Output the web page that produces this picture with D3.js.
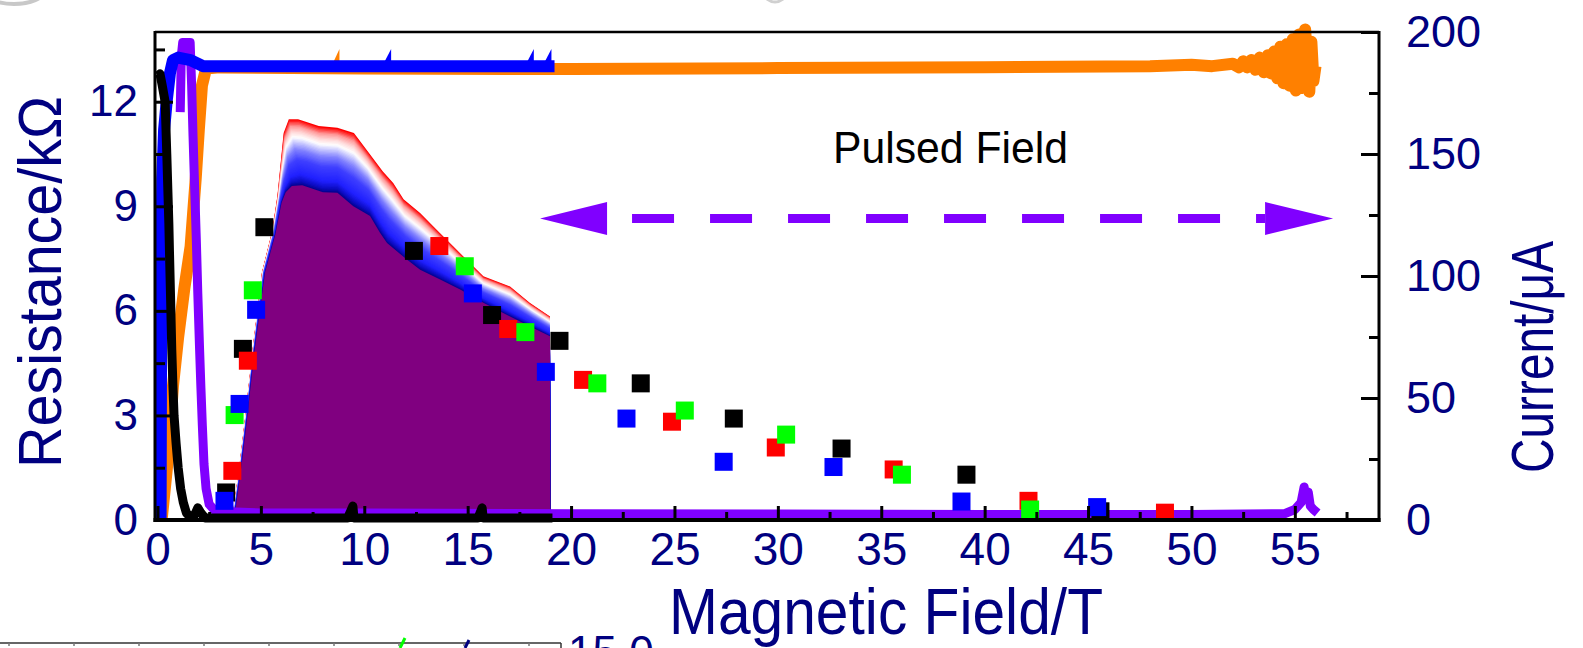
<!DOCTYPE html>
<html><head><meta charset="utf-8">
<script src="https://cdn.jsdelivr.net/npm/d3@7"></script>
<style>
html,body{margin:0;padding:0;background:#fff;}
svg{display:block;}
text{font-family:"Liberation Sans",Arial,Helvetica,sans-serif;}
</style></head>
<body>
<svg id="chart" width="1583" height="648"></svg>
<script>
// ---------------- DATA ----------------
const xTicks = [0,5,10,15,20,25,30,35,40,45,50,55];
const xMinor = [2.5,7.5,12.5,17.5,22.5,27.5,32.5,37.5,42.5,47.5,52.5,57.5];
const leftTicks = [0,3,6,9,12];
const leftMinor = [1.5,4.5,7.5,10.5,13.5];
const rightTicks = [0,50,100,150,200];
const rightMinor = [25,75,125,175];

// Resistance curves (kOhm, left axis)
const blackX = [0.02,0.12,0.22,0.37,0.45,0.5,0.55,0.58,0.64,0.69,0.75,0.8,0.9,1.0,1.12,1.25,1.4,1.6,1.8,1.95,2.1,2.3,5,9.2,9.45,9.5,12,15.5,15.7,15.75,19.1];
const blackR = [12.75,12.8,12.5,12.0,10.5,9.5,8.5,7.7,6.2,4.9,3.8,3.0,2.2,1.5,0.9,0.5,0.2,0.08,0.15,0.35,0.2,0.06,0.06,0.06,0.4,0.06,0.06,0.06,0.35,0.06,0.06];

const purpleX = [1.1,1.15,1.22,1.58,1.65,1.72,1.8,1.88,1.95,2.03,2.1,2.17,2.25,2.35,2.5,2.8,5,10,20,30,40,50,54.5,55.0,55.3,55.45,55.55,55.65,55.75,55.9,56.1];
const purpleR = [11.7,13.3,13.7,13.7,12.5,11.0,9.5,8.0,6.5,5.0,3.8,2.7,1.6,0.9,0.45,0.25,0.2,0.2,0.18,0.17,0.16,0.16,0.18,0.3,0.5,0.95,0.6,0.8,0.4,0.3,0.2];

// Current curves (uA, right axis)
const blueX = [0.15,0.18,0.23,0.32,0.45,0.6,0.75,1.0,1.6,2.2,19.2];
const blueI = [0,90,140,160,172,183,188.5,189.5,188.5,186,186];
const blueSpikeX = [11.3,18.2,19.05];
const blueSpikeI = [193,193,193];

const orangeX = [0.2,0.5,0.75,1.0,1.3,1.6,1.85,2.0,2.15,2.35,3,10,20,30,40,48,50,51,52.0,52.3,52.5,52.7,52.9,53.1,53.3,53.5,53.7,53.85,54.0,54.15,54.3,54.45,54.6,54.75,54.9,55.05,55.2,55.35,55.5,55.6,55.7,55.8,55.9,56.0];
const orangeI = [0,25,55,75,95,112,140,160,178,185,185.5,185,184.8,185.2,185.6,186,186.6,186,187,185.5,188,185.5,188.5,184.5,189.5,183.5,190.5,183,192,181,194,179,195,178,197,176,199,177,201,186,175.5,196,180,186];
const orangeSpikeX = [8.8];
const orangeSpikeI = [193];

// Shaded region (kOhm): inner (purple) edge and outer (red) edge
const bandInnerX = [3.7,4.05,4.35,4.7,5.2,5.7,6.0,6.2,6.5,7.0,7.5,8.0,8.7,9.47,10.28,10.76,11.1,12.06,12.7,13.67,14.64,15.76,17.05,18.34,18.98,19.0];
const bandInnerR = [0,1.5,3.0,4.9,7.1,8.2,9.1,9.4,9.58,9.6,9.5,9.4,9.39,9.0,8.72,8.24,7.95,7.47,7.18,6.9,6.61,6.23,5.84,5.46,5.27,0];
const bandOuterX = [3.6,3.95,4.25,4.6,5.05,5.55,5.8,5.95,6.1,6.35,6.8,7.8,8.7,9.5,10.1,10.9,11.4,11.9,12.7,13.5,14.3,15.76,17.05,18.0,18.98,19.0];
const bandOuterR = [0,1.5,3.0,4.9,7.1,8.3,9.3,10.2,11.1,11.5,11.5,11.3,11.25,11.1,10.63,10.0,9.67,9.2,8.81,8.33,7.85,6.99,6.7,6.23,5.84,0];

// Square markers (x in T, R in kOhm)
const sqBlackX = [3.32,4.13,5.17,12.4,16.18,19.44,23.37,27.87,33.08,39.12,45.6];
const sqBlackR = [0.79,4.91,8.4,7.72,5.88,5.14,3.92,2.91,2.05,1.3,0.25];
const sqRedX = [3.62,4.37,13.63,16.96,20.58,24.88,29.9,35.6,42.12,48.72];
const sqRedR = [1.41,4.57,7.86,5.48,4.02,2.82,2.08,1.45,0.55,0.21];
const sqGreenX = [3.73,4.61,14.86,17.79,21.27,25.5,30.4,36.0,42.2];
const sqGreenR = [3.01,6.59,7.28,5.39,3.92,3.14,2.45,1.3,0.3];
const sqBlueX = [3.24,3.97,4.77,15.25,18.78,22.68,27.38,32.69,38.88,45.44];
const sqBlueR = [0.55,3.33,6.03,6.5,4.25,2.91,1.67,1.52,0.53,0.37];

// Annotation arrow (data coords)
const arrowX = [18.5, 56.85];
const arrowR = 8.65;

// ---------------- CHART ----------------
const svg = d3.select("#chart");
const navy = "#000080";
const x = d3.scaleLinear().domain([-0.12, 59.07]).range([155, 1379]);
const yL = d3.scaleLinear().domain([0, 14]).range([520, 32]);
const yR = d3.scaleLinear().domain([0, 200]).range([520, 32]);

// remnants of neighbouring figures
svg.append("ellipse").attr("cx",14).attr("cy",-9).attr("rx",30).attr("ry",13).attr("fill","none").attr("stroke","#c8c8c8").attr("stroke-width",4);
svg.append("ellipse").attr("cx",775).attr("cy",-6).attr("rx",10).attr("ry",8).attr("fill","none").attr("stroke","#d0d0d0").attr("stroke-width",3);

// shaded band
const zip = (a,b)=>a.map((v,i)=>[v,b[i]]);
const colorF = d3.scaleLinear()
  .domain([0,0.07,0.18,0.4,0.55,0.66,0.74,0.82,0.9,0.96,1])
  .range(["#000080","#0c0cc0","#2020ff","#4040ff","#8080ff","#c8c8ff","#ffffff","#ffd6d6","#ff9a9a","#ff4040","#ff0000"]);
const ptsLine = d3.line().x(d=>x(d[0])).y(d=>yL(d[1]));
const nLayers = 48;
for (let k = nLayers; k >= 1; k--) {
  const f = k / nLayers;
  const pts = bandInnerX.map((xi,i)=>[xi + f*(bandOuterX[i]-xi), bandInnerR[i] + f*(bandOuterR[i]-bandInnerR[i])]);
  svg.append("path").attr("d", ptsLine(pts) + "Z").attr("fill", colorF(f)).attr("stroke","none");
}
svg.append("path").attr("d", ptsLine(zip(bandInnerX, bandInnerR)) + "Z").attr("fill", "#800080");

// curves
const lineL = d3.line().x(d=>x(d[0])).y(d=>yL(d[1]));
const lineR = d3.line().x(d=>x(d[0])).y(d=>yR(d[1]));
function spikes(xs, vs, base, color){
  xs.forEach((sx,i)=>{
    const px = x(sx), top = yR(vs[i]), b = yR(base);
    svg.append("path").attr("d",`M${px-9},${b}L${px},${top}L${px},${b}Z`).attr("fill",color);
  });
}
svg.append("path").attr("d", lineR(zip(orangeX, orangeI))).attr("fill","none").attr("stroke","#ff8000").attr("stroke-width",12).attr("stroke-linejoin","round");
spikes(orangeSpikeX, orangeSpikeI, 185, "#ff8000");
svg.append("path").attr("d", lineL(zip(purpleX, purpleR))).attr("fill","none").attr("stroke","#8000ff").attr("stroke-width",9).attr("stroke-linejoin","round");
svg.append("path").attr("d", lineR(zip(blueX, blueI))).attr("fill","none").attr("stroke","#0000ff").attr("stroke-width",12).attr("stroke-linejoin","round");
spikes(blueSpikeX, blueSpikeI, 186, "#0000ff");
svg.append("path").attr("d", lineL(zip(blackX, blackR))).attr("fill","none").attr("stroke","#000").attr("stroke-width",9).attr("stroke-linejoin","round");

// squares
const sq = 18;
[[sqBlackX,sqBlackR,"#000000"],[sqRedX,sqRedR,"#ff0000"],[sqGreenX,sqGreenR,"#00ff00"],[sqBlueX,sqBlueR,"#0000ff"]].forEach(([xs,rs,c])=>{
  svg.append("g").selectAll("rect").data(zip(xs,rs)).join("rect")
    .attr("x", d=>x(d[0])-sq/2).attr("y", d=>yL(d[1])-sq/2)
    .attr("width", sq).attr("height", sq).attr("fill", c);
});

// axes
function styleAxis(g, fs){
  g.select(".domain").remove();
  g.selectAll(".tick line").attr("stroke","#000").attr("stroke-width",3);
  g.selectAll(".tick text").attr("fill",navy).style("font-size",fs+"px").style("font-family",'"Liberation Sans",Arial,sans-serif');
}
const gx = svg.append("g").attr("transform","translate(0,520)")
  .call(d3.axisBottom(x).tickValues(xTicks).tickSize(-14).tickPadding(12).tickFormat(d3.format("d")));
styleAxis(gx, 46);
const gxm = svg.append("g").attr("transform","translate(0,520)")
  .call(d3.axisBottom(x).tickValues(xMinor).tickSize(-8).tickFormat(""));
styleAxis(gxm, 46);
const gl = svg.append("g").attr("transform","translate(155,0)")
  .call(d3.axisLeft(yL).tickValues(leftTicks).tickSize(-18).tickPadding(17).tickFormat(d3.format("d")));
styleAxis(gl, 44);
const glm = svg.append("g").attr("transform","translate(155,0)")
  .call(d3.axisLeft(yL).tickValues(leftMinor).tickSize(-10).tickFormat(""));
styleAxis(glm, 44);
const gr = svg.append("g").attr("transform","translate(1379,0)")
  .call(d3.axisRight(yR).tickValues(rightTicks).tickSize(-18).tickPadding(27).tickFormat(d3.format("d")));
styleAxis(gr, 45);
const grm = svg.append("g").attr("transform","translate(1379,0)")
  .call(d3.axisRight(yR).tickValues(rightMinor).tickSize(-10).tickFormat(""));
styleAxis(grm, 45);

// frame
svg.append("line").attr("x1",155).attr("x2",1379).attr("y1",32).attr("y2",32).attr("stroke","#000").attr("stroke-width",2.5);
svg.append("line").attr("x1",155).attr("x2",155).attr("y1",31).attr("y2",522).attr("stroke","#000").attr("stroke-width",3);
svg.append("line").attr("x1",1379).attr("x2",1379).attr("y1",31).attr("y2",522).attr("stroke","#000").attr("stroke-width",3);
svg.append("line").attr("x1",153.5).attr("x2",1380.5).attr("y1",520).attr("y2",520).attr("stroke","#000").attr("stroke-width",4);

// titles
svg.append("text").attr("x",886).attr("y",634).attr("text-anchor","middle").attr("fill",navy)
  .style("font-size","64px").attr("textLength",434).attr("lengthAdjust","spacingAndGlyphs").text("Magnetic Field/T");
svg.append("text").attr("transform","translate(61,282) rotate(-90)").attr("text-anchor","middle").attr("fill",navy)
  .style("font-size","61px").attr("textLength",372).attr("lengthAdjust","spacingAndGlyphs").text("Resistance/kΩ");
svg.append("text").attr("transform","translate(1553,357) rotate(-90)").attr("text-anchor","middle").attr("fill",navy)
  .style("font-size","60px").attr("textLength",232).attr("lengthAdjust","spacingAndGlyphs").text("Current/μA");

// annotation
svg.append("text").attr("x",833).attr("y",163).attr("fill","#000")
  .style("font-size","45px").attr("textLength",235).attr("lengthAdjust","spacingAndGlyphs").text("Pulsed Field");
const ay = yL(arrowR);
const xa0 = x(arrowX[0]), xa1 = x(arrowX[1]);
svg.append("line").attr("x1",xa0+67).attr("x2",xa1-68).attr("y1",ay).attr("y2",ay)
  .attr("stroke","#8000ff").attr("stroke-width",9).attr("stroke-dasharray","42 36").attr("stroke-dashoffset",53);
svg.append("path").attr("d",`M${xa0},${ay}L${xa0+67},${ay-16.5}L${xa0+67},${ay+16.5}Z`).attr("fill","#8000ff");
svg.append("path").attr("d",`M${xa1},${ay}L${xa1-68},${ay-16.5}L${xa1-68},${ay+16.5}Z`).attr("fill","#8000ff");

// partial neighbouring panel at the bottom
const gb = svg.append("g");
gb.append("line").attr("x1",0).attr("x2",561).attr("y1",643).attr("y2",643).attr("stroke","#333").attr("stroke-width",1.5);
gb.append("line").attr("x1",561).attr("x2",561).attr("y1",643).attr("y2",648).attr("stroke","#333").attr("stroke-width",1.5);
[9,74,139,204,269,334,399,464,529].forEach(t=>gb.append("line").attr("x1",t).attr("x2",t).attr("y1",643).attr("y2",646).attr("stroke","#777").attr("stroke-width",1.5));
gb.append("line").attr("x1",400).attr("x2",405).attr("y1",648).attr("y2",638).attr("stroke","#00ff00").attr("stroke-width",3);
gb.append("line").attr("x1",465).attr("x2",469).attr("y1",648).attr("y2",640).attr("stroke",navy).attr("stroke-width",3);
gb.append("text").attr("x",568).attr("y",667).attr("fill",navy).style("font-size","44px").text("15.0");
</script>
</body></html>
